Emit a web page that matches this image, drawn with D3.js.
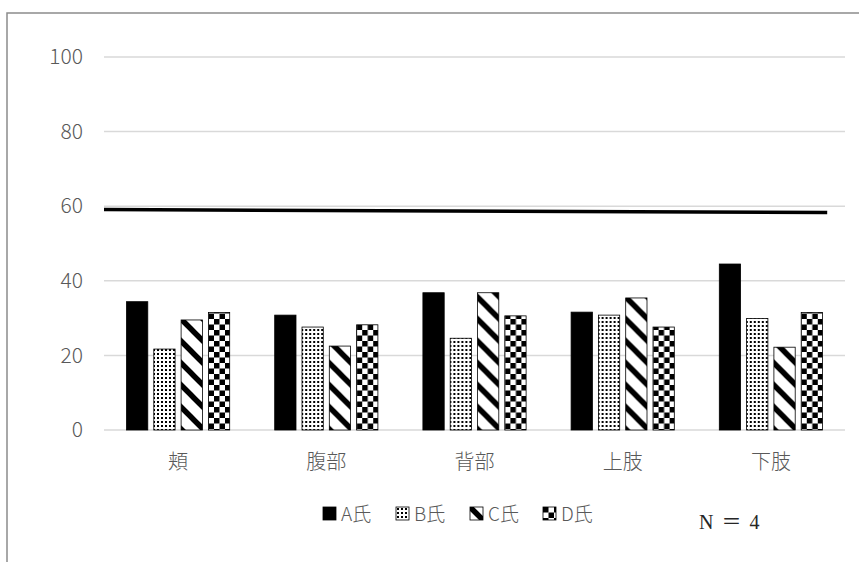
<!DOCTYPE html>
<html>
<head>
<meta charset="utf-8">
<script src="https://cdn.jsdelivr.net/npm/d3@7"></script>
<style>
  html, body { margin: 0; padding: 0; background: #fff; }
  svg { display: block; }
  text { font-family: "Noto Sans CJK JP", "Noto Sans", sans-serif; font-weight: 300; }
</style>
</head>
<body>
<svg id="chart" width="859" height="562"></svg>
<script>
// Body regions
const categories = ["頬", "腹部", "背部", "上肢", "下肢"];
// Subjects
const seriesNames = ["A氏", "B氏", "C氏", "D氏"];
// Scores per subject, one value per body region
const seriesA = [34.4, 30.8, 36.8, 31.6, 44.5];
const seriesB = [21.7, 27.6, 24.6, 30.8, 29.9];
const seriesC = [29.5, 22.5, 36.8, 35.4, 22.2];
const seriesD = [31.5, 28.2, 30.6, 27.6, 31.5];
const yTicks = [0, 20, 40, 60, 80, 100];
// Reference line: [category-axis position (0 = left edge, 5 = right edge), value]
const refLine = [[0, 59.1], [4.88, 58.3]];
const noteText = "N ＝ 4";

const seriesValues = [seriesA, seriesB, seriesC, seriesD];

const svg = d3.select("#chart");
const W = 859, H = 562;
const plot = { left: 104, right: 845, top: 57, bottom: 430 };

svg.append("rect").attr("width", W).attr("height", H).attr("fill", "#fff");

// ---- fill patterns ----
const defs = svg.append("defs");
const fills = ["#000", "url(#pDots)", "url(#pDiag)", "url(#pCheck)"];

const dots = defs.append("pattern").attr("id", "pDots")
  .attr("patternUnits", "userSpaceOnUse").attr("width", 4).attr("height", 4);
dots.append("rect").attr("width", 4).attr("height", 4).attr("fill", "#fff");
dots.append("rect").attr("x", 1).attr("y", 1).attr("width", 2).attr("height", 2).attr("fill", "#000");

const diag = defs.append("pattern").attr("id", "pDiag")
  .attr("patternUnits", "userSpaceOnUse").attr("width", 22).attr("height", 22);
diag.append("rect").attr("width", 22).attr("height", 22).attr("fill", "#fff");
diag.append("path").attr("d", "M-5,-5 L27,27 M-16,6 L6,28 M6,-16 L28,6")
  .attr("stroke", "#000").attr("stroke-width", 5.5);

const check = defs.append("pattern").attr("id", "pCheck")
  .attr("patternUnits", "userSpaceOnUse").attr("width", 11).attr("height", 11);
check.append("rect").attr("width", 11).attr("height", 11).attr("fill", "#fff");
check.append("rect").attr("width", 5.5).attr("height", 5.5).attr("fill", "#000");
check.append("rect").attr("x", 5.5).attr("y", 5.5).attr("width", 5.5).attr("height", 5.5).attr("fill", "#000");

// ---- outer frame ----
svg.append("rect").attr("x", 7).attr("y", 13).attr("width", 900).attr("height", 600)
  .attr("fill", "none").attr("stroke", "#8c8c8c").attr("stroke-width", 1.5);

// ---- scales ----
const x0 = d3.scaleBand().domain(categories).range([plot.left, plot.right]);
const bw = x0.bandwidth();
const x1 = d3.scaleBand().domain(seriesNames).range([22.5, bw - 22.5]).paddingInner(0.22);
const y = d3.scaleLinear().domain([0, 100]).range([plot.bottom, plot.top]);
const xPos = d3.scaleLinear().domain([0, categories.length]).range([plot.left, plot.right]);

// ---- gridlines ----
svg.append("g").selectAll("line").data(yTicks).join("line")
  .attr("x1", plot.left).attr("x2", plot.right)
  .attr("y1", d => y(d)).attr("y2", d => y(d))
  .attr("stroke", "#d9d9d9").attr("stroke-width", 1.5);

// ---- y axis labels ----
const yAxis = d3.axisLeft(y).tickValues(yTicks).tickSize(0).tickPadding(21);
const gy = svg.append("g").attr("transform", `translate(${plot.left},0)`).call(yAxis)
  .attr("font-size", null).attr("font-family", null);
gy.select(".domain").remove();
gy.selectAll("text").attr("fill", "#595959").style("font-size", "21px");

// ---- x axis labels ----
const xAxis = d3.axisBottom(x0).tickSize(0).tickPadding(25);
const gx = svg.append("g").attr("transform", `translate(0,${plot.bottom})`).call(xAxis)
  .attr("font-size", null).attr("font-family", null);
gx.select(".domain").remove();
gx.selectAll("text").attr("fill", "#595959").style("font-size", "20px");

// ---- bars ----
const groups = svg.append("g").selectAll("g").data(categories).join("g")
  .attr("transform", c => `translate(${x0(c)},0)`);
groups.selectAll("rect")
  .data((c, ci) => seriesNames.map((s, si) => ({ s, si, v: seriesValues[si][ci] })))
  .join("rect")
  .attr("x", d => x1(d.s))
  .attr("y", d => y(d.v))
  .attr("width", x1.bandwidth())
  .attr("height", d => y(0) - y(d.v))
  .attr("fill", d => fills[d.si])
  .attr("stroke", "#000").attr("stroke-width", 0.8);

// ---- reference line ----
svg.append("path")
  .attr("d", d3.line().x(d => xPos(d[0])).y(d => y(d[1]))(refLine))
  .attr("stroke", "#000").attr("stroke-width", 3.5).attr("fill", "none");

// ---- legend ----
const legendX = [323, 396, 470, 543];
const lg = svg.append("g").selectAll("g").data(seriesNames).join("g")
  .attr("transform", (d, i) => `translate(${legendX[i]},507)`);
lg.append("rect").attr("width", 13).attr("height", 13)
  .attr("fill", (d, i) => fills[i]).attr("stroke", "#000").attr("stroke-width", 0.8);
lg.append("text").attr("x", 18).attr("y", 14)
  .attr("fill", "#595959").style("font-size", "19px").text(d => d);

// ---- note ----
svg.append("text").attr("x", 699).attr("y", 529)
  .style("font-family", "'Liberation Serif', 'Noto Sans CJK JP', serif")
  .style("font-size", "20px").style("font-weight", "400").style("word-spacing", "3px")
  .attr("fill", "#262626")
  .text(noteText);
</script>
</body>
</html>
